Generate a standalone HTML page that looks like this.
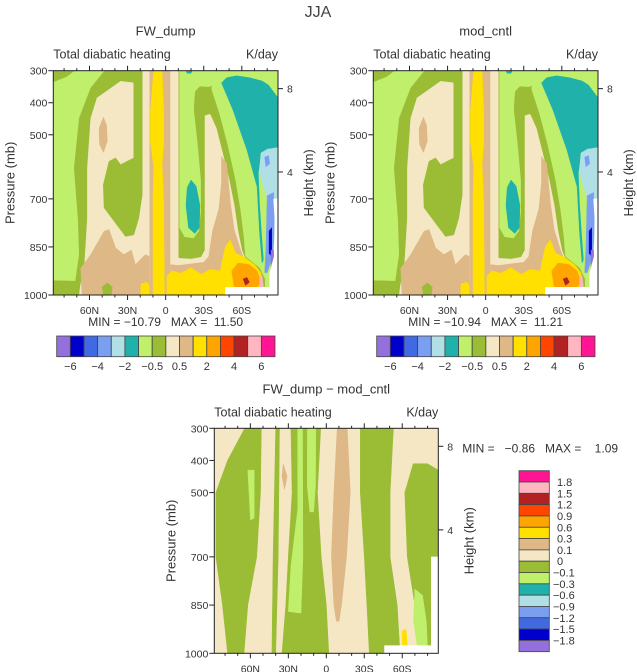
<!DOCTYPE html>
<html><head><meta charset="utf-8">
<style>
html,body{margin:0;padding:0;background:#fff;}
svg{display:block;font-family:"Liberation Sans",sans-serif;}
</style></head>
<body>
<svg id="chart" width="637" height="672" viewBox="0 0 637 672" xmlns="http://www.w3.org/2000/svg">
<text x="318" y="17" font-size="16" fill="#444" text-anchor="middle">JJA</text>
</svg>
<script>
// ---------- data ----------
const latTicks = [60, 30, 0, -30, -60];
const latTickLabels = ["60N", "30N", "0", "30S", "60S"];
const presTicks = [300, 400, 500, 700, 850, 1000];
const heightTicksP = [356, 616];
const heightTickLabels = ["8", "4"];
const levelLabelsTop = ["-6", "-4", "-2", "-0.5", "0.5", "2", "4", "6"];
const levelLabelsDiff = ["1.8","1.5","1.2","0.9","0.6","0.3","0.1","0","-0.1","-0.3","-0.6","-0.9","-1.2","-1.5","-1.8"];
const panelMin = ["-10.79", "-10.94", "-0.86"];
const panelMax = ["11.50", "11.21", "1.09"];

// full-field contour regions (lat, pressure)
const pOliveCorner = [[88.5,300],[72,300],[78,318],[88.5,335]];
const pOliveLeft = [[48,300],[59,354],[68,448],[72,604],[69,760],[68,874],[71,957],[88.5,955],[88.5,1000],[12,1000],[12,300]];
const pWheatLeft = [[43,354],[35.5,333],[25.1,338],[25.1,300],[12,300],[12,1000],[68,1000],[67,968],[64,916],[61.6,760],[61.6,604],[59,448],[54,385]];
const pOliveTongue = [[25.1,300],[18.5,300],[18.5,687],[21.2,760],[25.1,812],[31.6,817],[48.5,728],[49.1,656],[44.6,583],[39.4,572],[35.5,593],[25.1,572]];
const pTanBlob = [[49,445],[52.5,480],[52,530],[49,555],[46,520],[46.5,470]];
const pTanLeftBottom = [[66.8,916],[59,874],[48.5,801],[44.6,796],[39.4,853],[32.9,874],[27,860],[23.8,905],[16,874],[13,880],[13,1000],[66,1000]];
const pOliveRing = [[50,975],[46,962],[42,975],[43,1000],[49,1000]];
const pYellowSpotL = [[19.5,965],[15,960],[12,975],[12,1000],[19.5,1000]];
const pTanEq = [[12.5,300],[-3.8,300],[-3.8,1000],[12.5,1000]];
const pYellowEq = [[9.4,300],[2.9,300],[1.6,420],[1.6,530],[2.9,590],[1.6,700],[1,1000],[10,1000],[10,700],[9.4,600],[12,520],[12,430]];
const pOliveBigR = [[-9.5,300],[-36,300],[-36,360],[-42,433],[-48.3,527],[-54.8,641],[-58.7,735],[-61.3,818],[-62.6,880],[-74,916],[-78,950],[-78,1000],[-9.5,1000]];
const pWheatEqR = [[-3.8,300],[-10,300],[-10,1000],[-3.8,1000]];
const pLgU = [[-11,300],[-40,300],[-40,340],[-34,350],[-27,348],[-23,365],[-22,420],[-25,530],[-27.5,640],[-27.5,740],[-26,800],[-22,822],[-15,818],[-11,790]];
const pTealBlob = [[-20,641],[-24,660],[-27,720],[-26.5,790],[-23,808],[-18,790],[-16,720],[-17,665]];
const pTealDot = [[-16,300],[-21,300],[-20,308],[-17,308]];
const pWheatArch = [[-31,440],[-35,436],[-40,480],[-45,560],[-50,640],[-54,720],[-57,800],[-60,860],[-63,890],[-66,1000],[-10,1000],[-10,885],[-20,888],[-28,882],[-31,860],[-31,700],[-31,560]];
const pTanArch = [[-44,568],[-48,590],[-51,714],[-54,797],[-59,860],[-63,900],[-64,1000],[-3.8,1000],[-3.8,905],[-10,908],[-20,903],[-30,898],[-34,880],[-37,800],[-42,730],[-44,650]];
const pYellowR = [[-1,1000],[-1,940],[-5,925],[-12,932],[-20,915],[-28,935],[-35,920],[-43,925],[-47,850],[-51,828],[-55,870],[-62,882],[-70,905],[-75,930],[-77,975],[-47,975],[-47,1000]];
const pOrangeR = [[-52,925],[-57,900],[-66,905],[-72,925],[-75,960],[-72,975],[-54,975]];
const pRedR = [[-61,950],[-64,945],[-66,960],[-63,970]];
const pPinkR = [[-74,945],[-76,940],[-77,975],[-74,975]];
const pTealR = [[-44,338],[-48,322],[-56,316],[-66,322],[-76,332],[-81,345],[-88.5,385],[-88.5,545],[-80,548],[-75,555],[-73,620],[-74,720],[-75.5,810],[-77,890],[-76,900],[-74,807],[-72,662],[-64,547],[-53,422]];
const pLcyanR = [[-88.5,540],[-80,545],[-75,557],[-74,620],[-77,660],[-80,700],[-83,715],[-88.5,710]];
const pBlueSpot = [[-78,570],[-81,565],[-82,590],[-79,600]];
const pCornR = [[-80,690],[-85,680],[-86,800],[-84,880],[-80,930],[-78,930],[-79,860]];
const pDarkBlueR = [[-81.5,800],[-83.5,790],[-83.5,880],[-81.5,870]];
const pPurpleR = [[-83,860],[-85,860],[-85,930],[-83,930]];
const pWhiteR = [[-85,700],[-88.5,700],[-88.5,1000],[-47,1000],[-47,976],[-82,976],[-82,930],[-85.5,880],[-86,760]];

// difference-field regions
const dOliveA = [[64.5,300],[78,400],[87.2,500],[87.2,700],[82,850],[78,1000],[65,1000],[62,850],[55,700],[52,500],[51.4,300]];
const dLgA = [[62,430],[57,430],[57,580],[60,585]];
const dOliveThin = [[40,300],[37,300],[38,700],[40,1000],[43,1000],[42,700]];
const dOliveB = [[28,300],[27,500],[30,700],[32,850],[35,1000],[-2,1000],[0,850],[4,700],[7,500],[4.4,300]];
const dLgB1 = [[22.7,300],[22.5,550],[28,730],[30,870],[20,875],[18.5,700],[18.8,300]];
const dLgB2 = [[14.9,300],[15,480],[13,560],[10,560],[8.5,480],[8.3,300]];
const dTanC = [[-8.6,300],[-6,500],[-4,700],[-6,850],[-8,900],[-10,900],[-12,850],[-16,700],[-19,500],[-16.5,300]];
const dTanSmall = [[34,410],[35,450],[33,490],[31,450]];
const dOliveD = [[-26.9,300],[-26.9,500],[-30,700],[-32.1,850],[-34,1000],[-58.2,1000],[-56,850],[-50.4,700],[-50.4,500],[-53,300]];
const dOliveE = [[-68.7,410],[-62,500],[-64,700],[-70,850],[-76,1000],[-88.5,1000],[-88.5,430],[-80,410]];
const dLgE = [[-70,800],[-69,900],[-72,980],[-80,980],[-79,900],[-76,820]];
const dYellowSpot = [[-60,930],[-63,925],[-64,975],[-60,975]];
const dWhite = [[-83,700],[-88.5,700],[-88.5,1000],[-46,1000],[-46,976],[-83,976]];

// ---------- styles ----------
const C = {purple:"#9370db",dblue:"#0000cd",blue:"#4169e1",corn:"#7a9ff0",lcyan:"#b0e0e6",teal:"#20b2aa",lg:"#bfef6b",olive:"#9abd35",wheat:"#f5e6c4",tan:"#deb887",yellow:"#ffe000",orange:"#ffa500",ored:"#ff4500",red:"#b22222",pink:"#ffb6c1",mag:"#ff1493",white:"#ffffff"};
const barColors = [C.purple,C.dblue,C.blue,C.corn,C.lcyan,C.teal,C.lg,C.olive,C.wheat,C.tan,C.yellow,C.orange,C.ored,C.red,C.pink,C.mag];
const fullOrder = [
 ["olive-corner",pOliveCorner,C.olive],["olive-left",pOliveLeft,C.olive],["wheat-left",pWheatLeft,C.wheat],
 ["olive-tongue",pOliveTongue,C.olive],["tan-blob",pTanBlob,C.tan],["tan-left-bottom",pTanLeftBottom,C.tan],
 ["olive-ring",pOliveRing,C.olive],["yellow-spot-left",pYellowSpotL,C.yellow],
 ["olive-right",pOliveBigR,C.olive],["tan-equator",pTanEq,C.tan],["yellow-equator",pYellowEq,C.yellow],["wheat-equator-south",pWheatEqR,C.wheat],
 ["lightgreen-u",pLgU,C.lg],["teal-blob",pTealBlob,C.teal],["teal-dot",pTealDot,C.teal],
 ["wheat-arch",pWheatArch,C.wheat],["tan-arch",pTanArch,C.tan],["yellow-south",pYellowR,C.yellow],
 ["orange-south",pOrangeR,C.orange],["red-south",pRedR,C.red],["pink-south",pPinkR,C.pink],
 ["teal-south",pTealR,C.teal],["lightcyan-south",pLcyanR,C.lcyan],["blue-spot",pBlueSpot,C.corn],
 ["cornflower-south",pCornR,C.corn],["darkblue-south",pDarkBlueR,C.dblue],["purple-south",pPurpleR,C.purple],["missing-south",pWhiteR,C.white]
];
const diffOrder = [
 ["olive-a",dOliveA,C.olive],["lightgreen-a",dLgA,C.lg],["olive-thin",dOliveThin,C.olive],["olive-b",dOliveB,C.olive],
 ["lightgreen-b1",dLgB1,C.lg],["lightgreen-b2",dLgB2,C.lg],["tan-c",dTanC,C.tan],["tan-small",dTanSmall,C.tan],
 ["olive-d",dOliveD,C.olive],["olive-e",dOliveE,C.olive],["lightgreen-e",dLgE,C.lg],["yellow-spot",dYellowSpot,C.yellow],["missing",dWhite,C.white]
];

const NS = "http://www.w3.org/2000/svg";
const svg = document.getElementById("chart");
function mk(tag, attrs, parent){const e=document.createElementNS(NS,tag);for(const k in attrs)e.setAttribute(k,attrs[k]);(parent||svg).appendChild(e);return e;}
function txt(s,x,y,size,anchor,parent){const t=mk("text",{x:x,y:y,"font-size":size,fill:"#333","text-anchor":anchor||"start"},parent);t.textContent=s;return t;}

const panels = [
 {name:"fw-dump",title:"FW_dump",x0:53.3,x1:278,y0:70.7,y1:295,bg:C.lg,regions:fullOrder},
 {name:"mod-cntl",title:"mod_cntl",x0:373.3,x1:598,y0:70.7,y1:295,bg:C.lg,regions:fullOrder},
 {name:"difference",title:"FW_dump \u2212 mod_cntl",x0:214.3,x1:438.3,y0:428.3,y1:653.3,bg:C.wheat,regions:diffOrder}
];

panels.forEach((P,pi)=>{
 const xS = lat => P.x0 + (88.5-lat)/177*(P.x1-P.x0);
 const yS = p => P.y0 + (p-300)/700*(P.y1-P.y0);
 const g = mk("g",{});
 
 
 const cp = mk("clipPath",{id:"clip"+pi},g);
 mk("rect",{x:P.x0,y:P.y0,width:P.x1-P.x0,height:P.y1-P.y0},cp);
 const plot = mk("g",{"clip-path":"url(#clip"+pi+")"},g);
 
 
 const bg = mk("rect",{x:P.x0,y:P.y0,width:P.x1-P.x0,height:P.y1-P.y0,fill:P.bg},plot);
 
 
 P.regions.forEach(r=>{
  const pts = r[1].map(d=>xS(d[0]).toFixed(1)+","+yS(d[1]).toFixed(1)).join(" ");
  const poly = mk("polygon",{points:pts,fill:r[2],stroke:r[2],"stroke-width":0.5,"stroke-linejoin":"round"},plot);
  
  
 });
 const frame = mk("rect",{x:P.x0,y:P.y0,width:P.x1-P.x0,height:P.y1-P.y0,fill:"none",stroke:"#222","stroke-width":1},g);
 
 
 // lat ticks
 for(let L=80;L>=-80;L-=10){
  const x=xS(L), major=(L%30===0);
  const len = major?5:2.5;
  mk("line",{x1:x,y1:P.y0,x2:x,y2:P.y0-len,stroke:"#222","stroke-width":1},g);
  mk("line",{x1:x,y1:P.y1,x2:x,y2:P.y1+len,stroke:"#222","stroke-width":1},g);
 }
 latTicks.forEach((L,i)=>{
  const t=txt(latTickLabels[i],xS(L),P.y1+19,10.5,"middle",g);
  
  
 });
 presTicks.forEach(p=>{
  const y=yS(p);
  mk("line",{x1:P.x0,y1:y,x2:P.x0-5,y2:y,stroke:"#222","stroke-width":1},g);
  const t=txt(String(p),P.x0-6,y+4,10.5,"end",g);
  
  
 });
 heightTicksP.forEach((p,i)=>{
  const y=yS(p);
  mk("line",{x1:P.x1,y1:y,x2:P.x1+5,y2:y,stroke:"#222","stroke-width":1},g);
  const t=txt(heightTickLabels[i],P.x1+9,y+4,10.5,"start",g);
  
  
 });
 const cx=(P.x0+P.x1)/2, cy=(P.y0+P.y1)/2;
 const tt=txt(P.title,cx,P.y0-35,13,"middle",g);
 
 
 const st=txt("Total diabatic heating",P.x0,P.y0-12,12.5,"start",g);
 
 
 const un=txt("K/day",P.x1,P.y0-12,12.5,"end",g);
 
 
 const yl=txt("Pressure (mb)",0,0,13,"middle",g);
 yl.setAttribute("transform","translate("+(P.x0-39)+","+cy+") rotate(-90)");
 
 
 const hl=txt("Height (km)",0,0,13,"middle",g);
 hl.setAttribute("transform","translate("+(P.x1+35)+","+cy+") rotate(-90)");
 
 
 let mm;
 if(pi<2){ mm=txt("MIN = \u2212"+panelMin[pi].slice(1)+"   MAX =  "+panelMax[pi],cx,P.y1+31,12,"middle",g); }
 else { mm=txt("MIN =   \u2212"+panelMin[pi].slice(1)+"   MAX =    "+panelMax[pi],P.x1+24,P.y0+24,12,"start",g); }
 mm.setAttribute("xml:space","preserve");
 mm.setAttribute("style","white-space:pre");
 
 
});

// horizontal colorbars
[56.7, 376.7].forEach((bx,bi)=>{
 const g=mk("g",{});
 
 
 const w=(275-56.7)/16;
 barColors.forEach((c,i)=>{
  const r=mk("rect",{x:bx+i*w,y:336,width:w,height:20.7,fill:c,stroke:"#444","stroke-width":0.8},g);
  
  
 });
 levelLabelsTop.forEach((s,i)=>{
  const t=txt(s.replace("-","\u2212"),bx+(2*i+1)*w,370,11,"middle",g);
  
  
 });
});
// vertical colorbar
(function(){
 const g=mk("g",{});
 
 
 const h=(651.7-470.7)/16;
 const rev=barColors.slice().reverse();
 rev.forEach((c,i)=>{
  const r=mk("rect",{x:519,y:470.7+i*h,width:30.3,height:h,fill:c,stroke:"#444","stroke-width":0.8},g);
  
  
 });
 levelLabelsDiff.forEach((s,i)=>{
  const neg=s.charAt(0)==="-";
  const t=txt(neg?"\u2212"+s.slice(1):s,neg?553:557,470.7+(i+1)*h+4,11,"start",g);
  
  
 });
})();
</script>
</body></html>
